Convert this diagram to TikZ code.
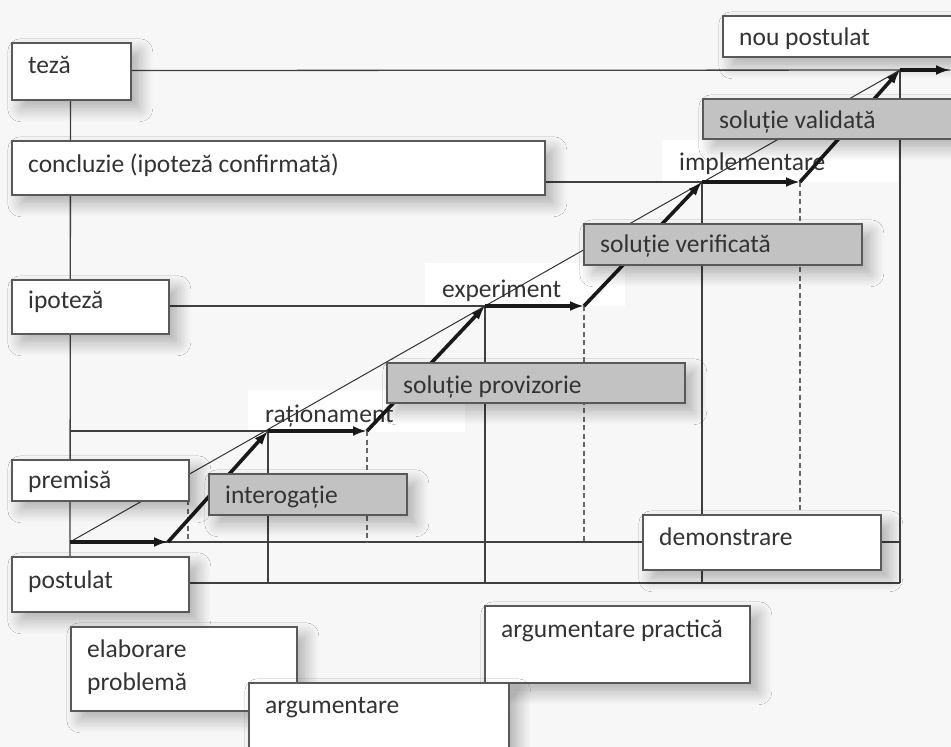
\documentclass[tikz,border=0pt]{standalone}
\usepackage{fontspec}
\setmainfont{Carlito}
\usetikzlibrary{arrows.meta,shadows.blur}
\tikzset{
  frame/.style={draw=black!75, line width=1.3pt},
  boxw/.style={draw=black!65, line width=1.5pt, fill=white, rectangle, inner sep=0pt,
    blur shadow={shadow xshift=9pt, shadow yshift=-9pt, shadow blur radius=13pt, shadow blur steps=10, shadow opacity=30}},
  boxg/.style={boxw, fill=black!24},
  lbl/.style={fill=white, rectangle, inner sep=0pt, draw=none},
  txt/.style={anchor=base west, inner sep=0pt, text=black!80, font=\fontsize{25.5}{30}\selectfont},
  stair/.style={line width=3.6pt, draw=black!90, -{Latex[length=14pt,width=10pt]}},
  dashv/.style={draw=black!60, line width=1.5pt, dash pattern=on 5pt off 3.5pt},
  diag/.style={draw=black!80, line width=1pt},
}
\newcommand\mybox[8]{%
  \node[#1, minimum width={(#5-#3)*1pt}, minimum height={(#6-#4)*1pt}, anchor=north west] (#2) at (#3,#4) {};
  \node[txt] (#2t) at (#3+17,#7) {#8};
}
\begin{document}
\begin{tikzpicture}[x=1pt,y=-1pt]
\useasboundingbox (0,0) rectangle (951,747);
\clip (0,0) rectangle (951,747);
\fill[black!3] (0,0) rectangle (951,747);

% staircase corners
\coordinate (a0) at (70,542);
\coordinate (b0) at (168,542);
\coordinate (a1) at (268,431);
\coordinate (b1) at (367,431);
\coordinate (a2) at (485,306);
\coordinate (b2) at (584,306);
\coordinate (a3) at (702,182);
\coordinate (b3) at (800,182);
\coordinate (a4) at (900,70);
\coordinate (e4) at (950,70);
\coordinate (f1) at (268,583);
\coordinate (f2) at (485,583);
\coordinate (f3) at (702,583);
\coordinate (f4) at (900,583);

% white labels (no border)
\mybox{lbl}{rationament}{248}{390}{465}{432}{422}{raționament}
\mybox{lbl}{experiment}{425}{263}{625}{306}{297}{experiment}
\mybox{lbl}{implementare}{662}{140}{898}{182}{170}{implementare}

% attachment points on the bordered boxes
\coordinate (tezaS) at (70.5,99);
\coordinate (tezaE) at (130,70.5);
\coordinate (conclE) at (544,182);
\coordinate (ipoE) at (168,306);
\coordinate (premSE) at (188,500);
\coordinate (postN) at (70,556);
\coordinate (postE) at (188,583);
\coordinate (demW) at (642,542);
\coordinate (demE) at (880,542);
\coordinate (demN) at (800,514);

% frame lines
\draw[frame] (tezaS) -- (postN);
\draw[frame] (tezaE) -- (e4);
\draw[frame] (conclE) -- (a3);
\draw[frame] (ipoE) -- (a2);
\draw[frame] (a0 |- a1) -- (a1);
\draw[frame] (a0) -- (demW);
\draw[frame] (demE) -- (a4 |- a0);
\draw[frame] (postE) -- (f4);
\draw[frame] (a1) -- (f1);
\draw[frame] (a2) -- (f2);
\draw[frame] (a3) -- (f3);
\draw[frame] (a4) -- (f4);

% dashed verticals
\draw[dashv] (premSE) -- (premSE |- a0);
\draw[dashv] (b1) -- (b1 |- a0);
\draw[dashv] (b2) -- (b2 |- a0);
\draw[dashv] (b3) -- (demN);

% thin diagonal
\draw[diag] (a0) -- (a4);

% thick staircase arrows
\draw[stair] (a0) -- (b0);
\draw[stair] (b0) -- (a1);
\draw[stair] (a1) -- (b1);
\draw[stair] (b1) -- (a2);
\draw[stair] (a2) -- (b2);
\draw[stair] (b2) -- (a3);
\draw[stair] (a3) -- (b3);
\draw[stair] (b3) -- (a4);
\draw[stair] (a4) -- (e4);

% boxes with borders
\mybox{boxw}{teza}{11}{42}{130}{99}{73}{teză}
\mybox{boxw}{concluzie}{11}{140}{544}{194}{172}{concluzie (ipoteză confirmată)}
\mybox{boxw}{ipoteza}{11}{279}{168}{333}{308}{ipoteză}
\mybox{boxw}{premisa}{11}{459}{188}{500}{488}{premisă}
\mybox{boxw}{postulat}{11}{556}{188}{611}{588}{postulat}
\mybox{boxg}{interogatie}{208}{473}{406}{514}{503}{interogație}
\mybox{boxg}{provizorie}{386}{362}{684}{402}{393}{soluție provizorie}
\mybox{boxg}{verificata}{583}{223}{861}{264}{252}{soluție verificată}
\mybox{boxg}{validata}{702}{98}{962}{138}{128}{soluție validată}
\mybox{boxw}{demonstrare}{642}{514}{880}{569}{545}{demonstrare}
\mybox{boxw}{noupostulat}{722}{15}{962}{56}{45}{nou postulat}
\mybox{boxw}{elaborare}{70}{626}{296}{710}{657}{elaborare}
\node[txt] (elaborare2) at (87,690) {problemă};
\mybox{boxw}{argpractica}{484}{605}{749}{682}{637}{argumentare practică}
\mybox{boxw}{argumentare}{248}{682}{508}{762}{713}{argumentare}
\end{tikzpicture}
\end{document}
